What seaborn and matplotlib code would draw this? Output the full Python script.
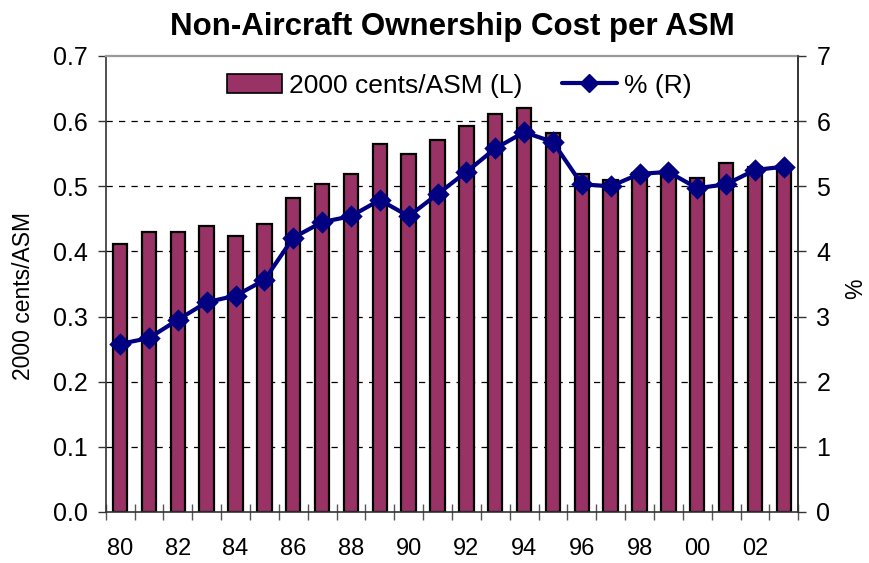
import numpy as np
import pandas as pd
import matplotlib
matplotlib.use("Agg")
import matplotlib.pyplot as plt
import seaborn as sns
from matplotlib.patches import Patch
from matplotlib.lines import Line2D

# Non-aircraft ownership cost per available seat mile, 1980-2003
years = ["80", "81", "82", "83", "84", "85", "86", "87", "88", "89", "90", "91",
         "92", "93", "94", "95", "96", "97", "98", "99", "00", "01", "02", "03"]
cents_per_asm = [0.411, 0.430, 0.430, 0.439, 0.424, 0.442, 0.482, 0.503, 0.519, 0.565,
                 0.550, 0.571, 0.593, 0.611, 0.620, 0.581, 0.519, 0.510, 0.520, 0.518,
                 0.513, 0.535, 0.529, 0.531]
pct_share = [2.58, 2.67, 2.95, 3.22, 3.32, 3.56, 4.21, 4.45, 4.54, 4.79,
             4.54, 4.88, 5.22, 5.58, 5.83, 5.68, 5.03, 5.00, 5.19, 5.22,
             4.97, 5.03, 5.25, 5.30]
left_ticks = [0.0, 0.1, 0.2, 0.3, 0.4, 0.5, 0.6, 0.7]
right_ticks = [0, 1, 2, 3, 4, 5, 6, 7]

df = pd.DataFrame({"year": years, "cents": cents_per_asm, "pct": pct_share})

sns.set_style("white")
plt.rcParams["font.family"] = ["Liberation Sans", "DejaVu Sans"]
plt.rcParams["text.color"] = "black"
plt.rcParams["axes.labelcolor"] = "black"
plt.rcParams["xtick.color"] = "black"
plt.rcParams["ytick.color"] = "black"

BAR_COLOR = "#993366"
LINE_COLOR = "#000080"

fig = plt.figure(figsize=(8.7, 5.63), dpi=100)
ax = fig.add_axes([0.1215, 0.0906, 0.796, 0.81])

sns.barplot(data=df, x="year", y="cents", color=BAR_COLOR, saturation=1,
            edgecolor="black", linewidth=1.6, width=0.5, ax=ax)

ax.set_ylim(0, 0.7)
ax.set_yticks(left_ticks)
ax.set_yticklabels([f"{v:.1f}" for v in left_ticks])
ax.set_axisbelow(True)
for v in left_ticks[1:-1]:
    ax.axhline(v, color="black", lw=0.9, ls=(0, (5, 5)), zorder=0)

# x axis: labels every other year, tick marks on category boundaries
n = len(years)
ax.set_xticks(range(n))
ax.set_xticklabels([y if i % 2 == 0 else "" for i, y in enumerate(years)])
ax.set_xticks(np.arange(-0.5, n, 1.0), minor=True)
ax.tick_params(axis="x", which="major", length=0, pad=19, labelsize=17,
               labelcolor="black")
ax.tick_params(axis="x", which="minor", direction="inout", length=12,
               width=1, color="#555555", bottom=True)
ax.tick_params(axis="y", which="major", direction="out", length=6, width=1,
               color="#333333", pad=7, labelsize=18, left=True,
               labelcolor="black")
ax.set_xlabel("")
ax.set_ylabel("2000 cents/ASM", fontsize=16.5, color="black")
ax.yaxis.set_label_coords(-0.102, 0.474)

for side in ["left", "bottom", "right"]:
    ax.spines[side].set_color("#333333")
    ax.spines[side].set_linewidth(1.2)
ax.spines["top"].set_color("#9a9a9a")
ax.spines["top"].set_linewidth(1.6)

ax2 = ax.twinx()
sns.pointplot(data=df, x="year", y="pct", color=LINE_COLOR, marker="D",
              markersize=9, linewidth=3, ax=ax2)
ax2.set_ylim(0, 7)
ax2.set_yticks(right_ticks)
ax2.set_yticklabels([str(v) for v in right_ticks])
ax2.tick_params(axis="y", direction="out", length=6, width=1, color="#333333",
                pad=7, labelsize=18, right=True, labelcolor="black")
ax2.set_xlim(-0.5, n - 0.5)
ax.set_xlim(-0.5, n - 0.5)
ax2.set_ylabel("%", fontsize=16.5, rotation=90, color="black")
ax2.yaxis.set_label_coords(1.066, 0.49)
for side in ["left", "bottom", "top"]:
    ax2.spines[side].set_visible(False)
ax2.spines["right"].set_color("#333333")
ax2.spines["right"].set_linewidth(1.2)

handles = [
    Patch(facecolor=BAR_COLOR, edgecolor="black", linewidth=1.2),
    Line2D([], [], color=LINE_COLOR, lw=3, marker="D", markersize=9),
]
ax2.legend(handles, ["2000 cents/ASM (L)", "% (R)"], loc="center",
           bbox_to_anchor=(0.51, 0.935), ncol=2, frameon=False, fontsize=19,
           handlelength=2.1, handletextpad=0.25, columnspacing=1.5)

ax.set_title("Non-Aircraft Ownership Cost per ASM", fontsize=22.5,
             fontweight="bold", pad=15, color="black")

fig.savefig("out.png", dpi=100)
